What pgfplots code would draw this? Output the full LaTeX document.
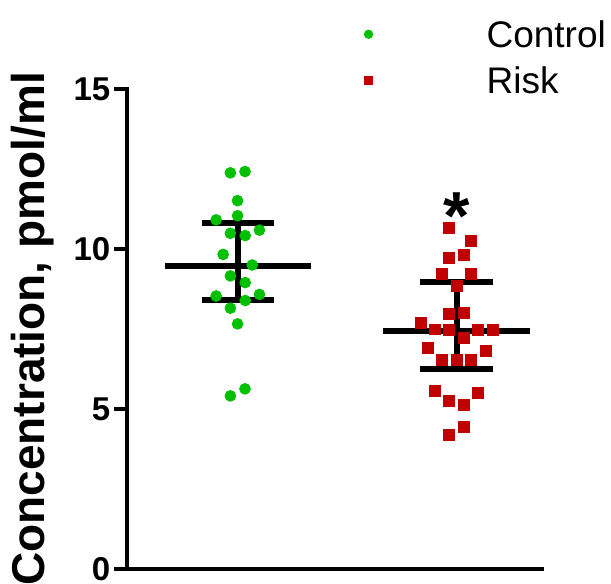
\documentclass[border=0pt]{standalone}
\usepackage{pgfplots}
\pgfplotsset{compat=1.18}
\usepackage{fontspec}
\setmainfont{Liberation Sans}
\definecolor{cgreen}{RGB}{0,192,0}
\definecolor{cred}{RGB}{192,0,0}
\begin{document}
\begin{tikzpicture}
\useasboundingbox (-63.35pt,-7.5pt) rectangle (242.15pt,284.5pt);
\begin{axis}[
  at={(0,0)}, anchor=south west,
  scale only axis, width=207.65pt, height=240pt,
  xmin=0.491, xmax=2.39, ymin=0, ymax=15,
  axis lines*=left,
  axis line style={line width=2.1pt, black, line cap=rect},
  xtick=\empty,
  ytick={0,5,10,15},
  tick align=outside,
  major tick length=6.5pt,
  tick style={line width=2.1pt, black},
  /pgf/number format/assume math mode=true,
  yticklabel style={font=\fontsize{16.5}{18}\selectfont\bfseries, inner sep=0pt, xshift=-1.5pt},
  ylabel={Concentration, pmol/ml},
  ylabel style={font=\fontsize{23}{25}\selectfont\bfseries, at={(axis description cs:-0.173,0.5)}, anchor=south, inner sep=0pt},
  clip=false,
  legend style={at={(rel axis cs:0.567,1.143)}, anchor=north west, draw=none, fill=none,
    inner sep=0pt, row sep=9.5pt, column sep=0pt,
    font=\fontsize{18.5}{20}\selectfont,
    nodes={inner sep=0pt, text height=13.5pt, text depth=0pt}},
  legend cell align=left,
  legend image code/.code={\draw[#1, mark size=2.1pt] plot coordinates {(0pt,0pt)}; \path[draw=none, fill=none] (-3pt,0pt) -- (59pt,0pt);},
]
\addplot[only marks, mark=*, mark size=2.7pt, color=cgreen, mark options={draw=none, fill=cgreen}] coordinates {
(0.965,12.38) (1.032,12.42) (0.998,11.51) (0.998,11.04) (0.900,10.91)
(0.965,10.49) (1.033,10.42) (1.098,10.59) (0.932,9.83) (1.065,9.50)
(0.965,9.16) (1.033,8.95) (0.900,8.53) (1.098,8.58) (1.033,8.39)
(0.965,8.15) (0.998,7.66) (0.965,5.41) (1.032,5.63)
};
\addlegendentry{Control}
\addplot[only marks, mark=square*, mark size=2.7pt, color=cred, mark options={draw=none, fill=cred}] coordinates {
(1.965,10.65) (2.065,10.26) (1.965,9.73) (2.032,9.81) (1.932,9.21)
(2.065,9.21) (2.000,8.84) (1.965,7.96) (2.032,8.01) (1.836,7.68)
(1.900,7.49) (1.965,7.47) (2.098,7.47) (2.165,7.47) (2.032,7.21)
(1.867,6.92) (2.133,6.82) (1.932,6.53) (2.000,6.53) (2.065,6.53)
(1.900,5.57) (2.098,5.51) (1.965,5.25) (2.032,5.13) (2.032,4.43)
(1.965,4.18)
};
\addlegendentry{Risk}
% error bars: mean and SD
\addplot[black, line width=3pt, forget plot] coordinates {(0.665,9.47) (1.335,9.47)};
\addplot[black, line width=3pt, forget plot] coordinates {(1,8.41) (1,10.81)};
\addplot[black, line width=3pt, forget plot] coordinates {(0.834,10.81) (1.166,10.81)};
\addplot[black, line width=3pt, forget plot] coordinates {(0.834,8.41) (1.166,8.41)};
\addplot[black, line width=3pt, forget plot] coordinates {(1.665,7.45) (2.335,7.45)};
\addplot[black, line width=3pt, forget plot] coordinates {(2,6.26) (2,8.98)};
\addplot[black, line width=3pt, forget plot] coordinates {(1.834,8.98) (2.166,8.98)};
\addplot[black, line width=3pt, forget plot] coordinates {(1.834,6.26) (2.166,6.26)};
\node[font=\fontsize{34}{34}\selectfont\bfseries, inner sep=0pt, yshift=-6.8pt] at (axis cs:2,11.44) {*};
\end{axis}
\end{tikzpicture}
\end{document}
